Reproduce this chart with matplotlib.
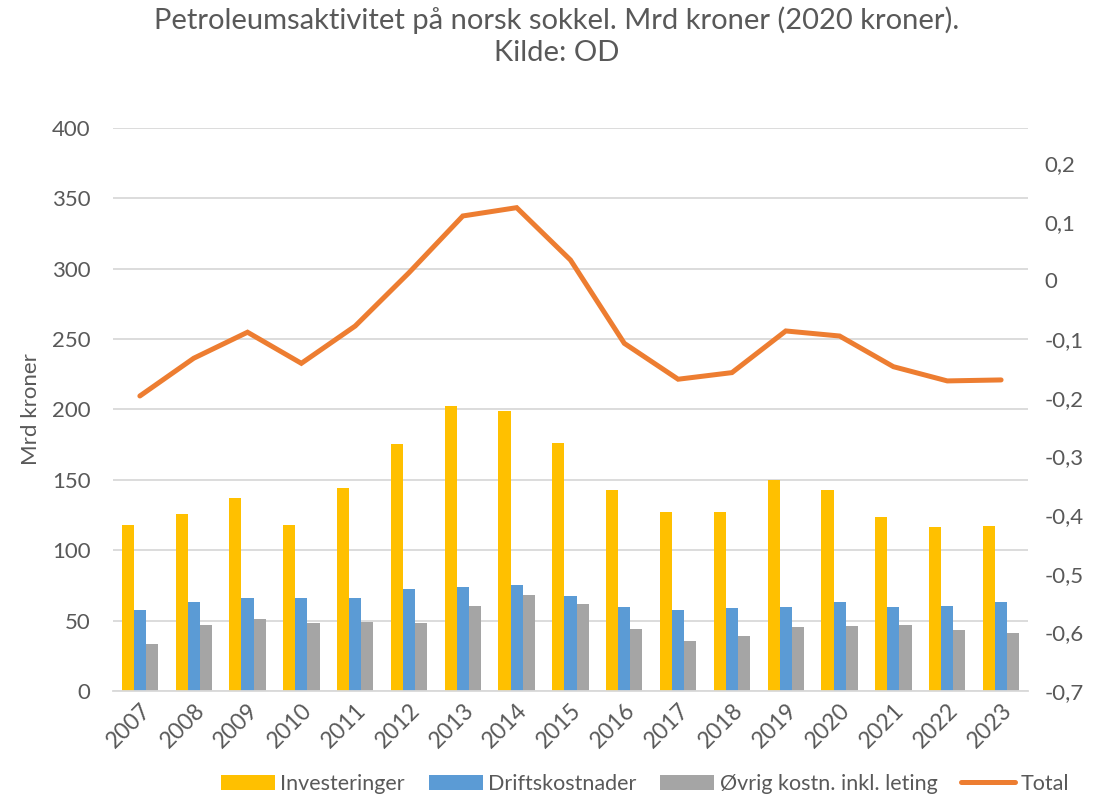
import matplotlib
matplotlib.use('Agg')
from matplotlib import pyplot as plt
from matplotlib.ticker import FuncFormatter
import numpy as np

plt.rcParams['font.family'] = ['Lato', 'DejaVu Sans']

years = ['2007', '2008', '2009', '2010', '2011', '2012', '2013', '2014', '2015',
         '2016', '2017', '2018', '2019', '2020', '2021', '2022', '2023']
investeringer = [118, 125.8, 137, 118, 144.2, 175.5, 202.5, 199, 176,
                 143, 127.2, 127, 150, 142.6, 123.6, 116.5, 117]
driftskostnader = [57.3, 63, 66, 66, 66, 72.5, 74.1, 75.1, 67.5,
                   59.5, 57.5, 59, 59.5, 63, 59.7, 60.2, 63]
ovrig = [33.6, 46.7, 51, 48.1, 49.2, 48.3, 60.2, 68.2, 61.8,
         44, 35.5, 39.3, 45.2, 46.2, 46.7, 43.3, 41]
total = [209.6, 236.4, 254.9, 232.8, 259.3, 297.2, 337.5, 343.4, 306.2,
         247, 221.5, 226.2, 255.8, 252.2, 230.4, 220.3, 221]

txt = '#595959'
grid = '#D9D9D9'

fig = plt.figure(figsize=(11.14, 7.99), dpi=100)
ax = fig.add_axes([0.1014, 0.1352, 0.8214, 0.7046])

x = np.arange(len(years))
w = 0.225
ax.bar(x - w, investeringer, w, color='#FFC000', label='Investeringer', zorder=2)
ax.bar(x, driftskostnader, w, color='#5B9BD5', label='Driftskostnader', zorder=2)
ax.bar(x + w, ovrig, w, color='#A5A5A5', label='Øvrig kostn. inkl. leting', zorder=2)
ax.plot(x, total, color='#ED7D31', linewidth=3.6, solid_capstyle='round',
        solid_joinstyle='miter', label='Total', zorder=3)

ax.set_xlim(-0.5, len(years) - 0.5)
ax.set_ylim(0, 400)
ax.set_yticks(range(0, 401, 50))
ax.yaxis.grid(True, color=grid, linewidth=1.3, zorder=0)
ax.set_axisbelow(True)
for s in ['top', 'right', 'left']:
    ax.spines[s].set_visible(False)
ax.spines['bottom'].set_color(grid)
ax.spines['bottom'].set_linewidth(1.3)
ax.tick_params(axis='both', length=0, colors=txt, labelsize=16)
ax.tick_params(axis='y', pad=16)
ax.set_xticks(x)
ax.set_xticklabels(years, rotation=45, ha='right', rotation_mode='anchor')
ax.tick_params(axis='x', pad=6, labelsize=16.5)
ax.set_ylabel('Mrd kroner', color=txt, fontsize=16, labelpad=8)


def komma(v, p):
    v = round(v, 1)
    if v == 0:
        return '0'
    return ('%g' % v).replace('.', ',')


ax2 = ax.twinx()
ax2.set_ylim(-0.7, -0.7 + 0.9 * 563 / 528)
ax2.set_yticks(np.round(np.arange(-0.7, 0.21, 0.1), 1))
ax2.yaxis.set_major_formatter(FuncFormatter(komma))
for s in ['top', 'right', 'left', 'bottom']:
    ax2.spines[s].set_visible(False)
ax2.tick_params(axis='y', length=0, colors=txt, labelsize=16, pad=12)

fig.suptitle('Petroleumsaktivitet på norsk sokkel. Mrd kroner (2020 kroner).\nKilde: OD',
             color=txt, fontsize=21, y=0.992, linespacing=1.3)

h, l = ax.get_legend_handles_labels()
order = [1, 2, 3, 0]
fig.legend([h[i] for i in order], [l[i] for i in order], loc='lower center',
           bbox_to_anchor=(0.579, -0.018), ncol=4, frameon=False, fontsize=15.5,
           labelcolor=txt, handlelength=2.5, handletextpad=0.25, columnspacing=1.12)

plt.savefig('out.png', dpi=100)
